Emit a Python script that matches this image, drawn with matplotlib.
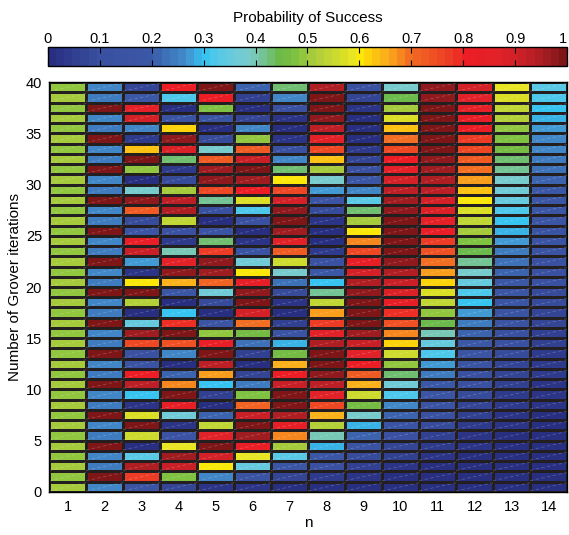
import numpy as np
import matplotlib.pyplot as plt
from matplotlib.colors import LinearSegmentedColormap, ListedColormap
from matplotlib.collections import LineCollection

plt.rcParams['font.family'] = ['Liberation Sans', 'DejaVu Sans']

# 量子比特数 n 和 Grover 迭代次数 k
n_vals = list(range(1, 15))
iters = list(range(0, 40))

# 每列：成功概率（从下到上，k = 0..39）
p1 = [0.501, 0.499, 0.501, 0.499, 0.501, 0.499, 0.501, 0.499, 0.501, 0.499,
      0.501, 0.499, 0.501, 0.499, 0.501, 0.499, 0.501, 0.499, 0.501, 0.499,
      0.501, 0.499, 0.501, 0.499, 0.501, 0.499, 0.501, 0.499, 0.501, 0.499,
      0.501, 0.499, 0.501, 0.499, 0.501, 0.499, 0.501, 0.499, 0.501, 0.499]
p2 = [0.251, 1.000, 0.249, 0.251, 1.000, 0.249, 0.251, 1.000, 0.249, 0.251,
      1.000, 0.249, 0.251, 1.000, 0.249, 0.251, 1.000, 0.249, 0.251, 1.000,
      0.249, 0.251, 1.000, 0.249, 0.251, 1.000, 0.249, 0.251, 1.000, 0.249,
      0.251, 1.000, 0.249, 0.251, 1.000, 0.249, 0.251, 1.000, 0.249, 0.251]
p3 = [0.125, 0.781, 0.945, 0.330, 0.012, 0.548, 1.000, 0.577, 0.019, 0.303,
      0.931, 0.805, 0.145, 0.106, 0.757, 0.958, 0.358, 0.007, 0.519, 0.998,
      0.606, 0.028, 0.276, 0.916, 0.828, 0.166, 0.089, 0.731, 0.969, 0.386,
      0.003, 0.490, 0.995, 0.634, 0.039, 0.251, 0.899, 0.849, 0.189, 0.073]
p4 = [0.063, 0.473, 0.908, 0.961, 0.582, 0.126, 0.020, 0.365, 0.836, 0.992,
      0.687, 0.206, 0.001, 0.264, 0.748, 1.000, 0.783, 0.301, 0.006, 0.174,
      0.647, 0.983, 0.866, 0.406, 0.034, 0.099, 0.540, 0.944, 0.931, 0.515,
      0.084, 0.044, 0.431, 0.883, 0.976, 0.622, 0.154, 0.010, 0.325, 0.804]
p5 = [0.031, 0.258, 0.602, 0.897, 0.999, 0.860, 0.546, 0.210, 0.014, 0.054,
      0.310, 0.658, 0.929, 0.993, 0.818, 0.489, 0.165, 0.004, 0.083, 0.364,
      0.711, 0.956, 0.980, 0.771, 0.432, 0.125, 0.000, 0.117, 0.420, 0.761,
      0.976, 0.960, 0.722, 0.376, 0.090, 0.003, 0.156, 0.477, 0.808, 0.990]
p6 = [0.016, 0.135, 0.344, 0.591, 0.816, 0.964, 0.997, 0.908, 0.718, 0.475,
      0.238, 0.066, 0.000, 0.058, 0.224, 0.458, 0.703, 0.898, 0.994, 0.970,
      0.829, 0.608, 0.360, 0.147, 0.020, 0.012, 0.124, 0.328, 0.575, 0.803,
      0.957, 0.998, 0.917, 0.733, 0.492, 0.253, 0.074, 0.001, 0.050, 0.210]
p7 = [0.008, 0.069, 0.183, 0.337, 0.511, 0.684, 0.834, 0.942, 0.996, 0.988,
      0.919, 0.799, 0.642, 0.467, 0.296, 0.150, 0.048, 0.002, 0.018, 0.093,
      0.219, 0.380, 0.556, 0.725, 0.865, 0.961, 1.000, 0.976, 0.894, 0.762,
      0.598, 0.422, 0.256, 0.120, 0.031, 0.000, 0.031, 0.121, 0.257, 0.423]
p8 = [0.004, 0.035, 0.095, 0.180, 0.285, 0.403, 0.527, 0.650, 0.764, 0.861,
      0.935, 0.983, 1.000, 0.986, 0.942, 0.871, 0.776, 0.664, 0.542, 0.417,
      0.298, 0.191, 0.103, 0.040, 0.006, 0.002, 0.030, 0.086, 0.169, 0.272,
      0.389, 0.513, 0.636, 0.751, 0.851, 0.928, 0.979, 1.000, 0.989, 0.949]
p9 = [0.002, 0.017, 0.048, 0.093, 0.150, 0.218, 0.296, 0.379, 0.466, 0.555,
      0.641, 0.723, 0.798, 0.864, 0.919, 0.960, 0.988, 0.999, 0.996, 0.977,
      0.943, 0.895, 0.835, 0.764, 0.685, 0.601, 0.513, 0.425, 0.339, 0.259,
      0.185, 0.122, 0.070, 0.032, 0.008, 0.000, 0.007, 0.030, 0.067, 0.118]
p10 = [0.001, 0.009, 0.024, 0.047, 0.077, 0.114, 0.156, 0.204, 0.257, 0.313,
       0.372, 0.434, 0.496, 0.559, 0.620, 0.680, 0.736, 0.789, 0.838, 0.881,
       0.919, 0.949, 0.973, 0.990, 0.998, 0.999, 0.993, 0.978, 0.956, 0.927,
       0.891, 0.850, 0.802, 0.750, 0.694, 0.635, 0.574, 0.512, 0.450, 0.388]
p11 = [0.000, 0.004, 0.012, 0.024, 0.039, 0.058, 0.080, 0.106, 0.135, 0.166,
       0.200, 0.237, 0.275, 0.316, 0.357, 0.400, 0.444, 0.488, 0.532, 0.576,
       0.619, 0.662, 0.703, 0.743, 0.780, 0.816, 0.848, 0.879, 0.906, 0.930,
       0.951, 0.968, 0.982, 0.992, 0.998, 1.000, 0.998, 0.993, 0.983, 0.970]
p12 = [0.000, 0.002, 0.006, 0.012, 0.020, 0.029, 0.041, 0.054, 0.069, 0.086,
       0.104, 0.124, 0.145, 0.168, 0.192, 0.217, 0.243, 0.270, 0.299, 0.328,
       0.357, 0.388, 0.418, 0.449, 0.480, 0.511, 0.543, 0.574, 0.604, 0.635,
       0.665, 0.694, 0.722, 0.750, 0.776, 0.802, 0.826, 0.849, 0.871, 0.891]
p13 = [0.000, 0.001, 0.003, 0.006, 0.010, 0.015, 0.021, 0.027, 0.035, 0.043,
       0.053, 0.063, 0.074, 0.086, 0.099, 0.113, 0.127, 0.142, 0.158, 0.175,
       0.192, 0.209, 0.228, 0.246, 0.266, 0.285, 0.305, 0.326, 0.347, 0.368,
       0.390, 0.411, 0.433, 0.455, 0.477, 0.499, 0.521, 0.543, 0.565, 0.587]
p14 = [0.000, 0.001, 0.002, 0.003, 0.005, 0.007, 0.010, 0.014, 0.018, 0.022,
       0.027, 0.032, 0.038, 0.044, 0.051, 0.058, 0.065, 0.073, 0.081, 0.090,
       0.099, 0.109, 0.119, 0.129, 0.140, 0.151, 0.162, 0.174, 0.186, 0.198,
       0.210, 0.223, 0.237, 0.250, 0.264, 0.277, 0.292, 0.306, 0.320, 0.335]

cb_ticks = [0, 0.1, 0.2, 0.3, 0.4, 0.5, 0.6, 0.7, 0.8, 0.9, 1]
cb_labels = ['0', '0.1', '0.2', '0.3', '0.4', '0.5', '0.6', '0.7', '0.8', '0.9', '1']

Z = np.array([p1, p2, p3, p4, p5, p6, p7, p8, p9, p10, p11, p12, p13, p14]).T

# 64 级颜色表（近似原图）
anchors = [
    (0.00, '#262c7e'), (0.10, '#3a50a0'), (0.20, '#3b58a6'), (0.22, '#3d6db4'),
    (0.26, '#4187c7'), (0.28, '#43a1d9'), (0.30, '#30c3f1'), (0.32, '#4cc8ec'),
    (0.36, '#6ccbdc'), (0.39, '#7acbc9'), (0.42, '#72c28c'), (0.45, '#6cb945'),
    (0.48, '#80c141'), (0.51, '#a5cb3c'), (0.55, '#c8d932'), (0.58, '#e0e122'),
    (0.60, '#f4ea28'), (0.605, '#fde800'), (0.62, '#fdd20a'), (0.65, '#fbb21a'),
    (0.67, '#f89a1c'), (0.70, '#f26b22'), (0.75, '#ef4e24'), (0.79, '#ec3325'),
    (0.80, '#ed1c24'), (0.87, '#e12229'), (0.90, '#d62027'), (0.94, '#b71f24'),
    (0.97, '#9a1b1f'), (1.00, '#7a1416')]
base = LinearSegmentedColormap.from_list('grover', anchors)
cmap = ListedColormap(base((np.arange(64) + 0.5) / 64))

fig = plt.figure(figsize=(5.69, 5.35), dpi=100)
ax = fig.add_axes([0.0861, 0.0804, 0.9104, 0.7663])
cax = fig.add_axes([0.0843, 0.8766, 0.9122, 0.0355])

x_edges = np.arange(len(n_vals) + 1) + 0.5
y_edges = np.arange(len(iters) + 1)
mesh = ax.pcolormesh(x_edges, y_edges, Z, cmap=cmap, vmin=0, vmax=1,
                     edgecolors='#231f20', linewidth=1.0)

# 原图中每个格子里的白色虚线
segs = []
for xe in x_edges[:-1]:
    for ye in y_edges[:-1]:
        segs.append([(xe, ye + 0.1), (xe + 1, ye + 0.9)])
ax.add_collection(LineCollection(segs, colors='white', linewidths=0.6,
                                 alpha=0.22, linestyles=(0, (4, 3))))

ax.set_xlim(0.5, 14.5)
ax.set_ylim(0, 40)
ax.set_xticks(n_vals)
ax.set_yticks(np.arange(0, 41, 5))
ax.tick_params(axis='x', direction='in', length=0, labelsize=10.5, pad=6)
ax.tick_params(axis='y', direction='in', length=0, labelsize=10.5, pad=5)
ax.set_xlabel('n', fontsize=11, labelpad=1)
ax.set_ylabel('Number of Grover iterations', fontsize=11, labelpad=3)
for s in ax.spines.values():
    s.set_linewidth(1.0)

cb = fig.colorbar(mesh, cax=cax, orientation='horizontal')
cb.set_ticks(cb_ticks)
cb.set_ticklabels(cb_labels)
cax.xaxis.set_ticks_position('both')
cax.xaxis.set_label_position('top')
cax.tick_params(direction='in', length=4, labelsize=10.5, labeltop=True,
                labelbottom=False, width=0.8, pad=1)
cax.get_xticklabels()[-1].set_horizontalalignment('right')
cb.outline.set_linewidth(1.0)
cax.set_title('Probability of Success', fontsize=11, pad=7)

fig.savefig('out.png', dpi=100, facecolor='white')
